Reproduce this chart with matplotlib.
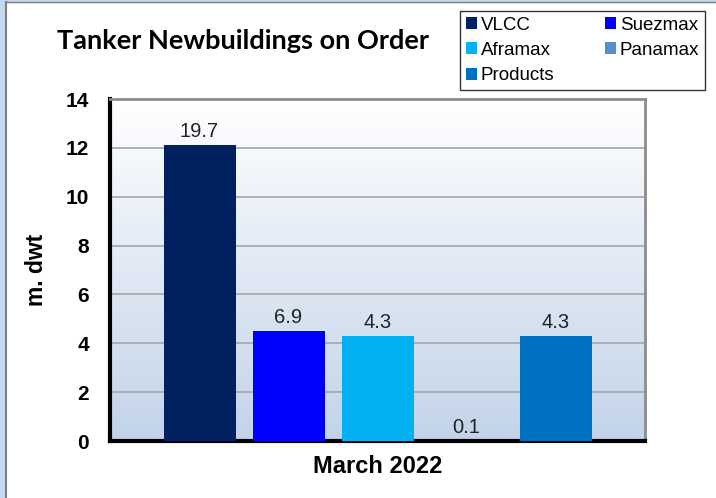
import numpy as np
import matplotlib
matplotlib.use("Agg")
import matplotlib.pyplot as plt
from matplotlib.colors import LinearSegmentedColormap
from matplotlib.patches import Rectangle

# data
categories = ["VLCC", "Suezmax", "Aframax", "Panamax", "Products"]
bar_heights = [12.1, 4.5, 4.3, 0.0, 4.3]
bar_labels = ["19.7", "6.9", "4.3", "0.1", "4.3"]
colors = ["#002060", "#0000ff", "#00b0f0", "#558ed5", "#0070c0"]
x_label = "March 2022"
y_ticks = [0, 2, 4, 6, 8, 10, 12, 14]

plt.rcParams["font.family"] = ["Liberation Sans", "DejaVu Sans"]

fig = plt.figure(figsize=(7.16, 4.98), dpi=100)

# light blue frame on left / top edge
fig.patches.append(Rectangle((0, 0), 5 / 716, 1, transform=fig.transFigure,
                             color="#c6d9f1", zorder=0))
fig.patches.append(Rectangle((0, 1 - 2 / 498), 1, 2 / 498, transform=fig.transFigure,
                             color="#c6d9f1", zorder=0))
fig.lines.append(plt.Line2D([6 / 716, 6 / 716], [0, 1 - 2.5 / 498],
                            transform=fig.transFigure, color="#7f7f7f", lw=1.5))
fig.lines.append(plt.Line2D([6 / 716, 1], [1 - 2.5 / 498, 1 - 2.5 / 498],
                            transform=fig.transFigure, color="#7f7f7f", lw=1))

ax = fig.add_axes([110 / 716, 57 / 498, 535 / 716, 342 / 498])

# gradient background
grad = np.linspace(0, 1, 256).reshape(-1, 1)
cmap = LinearSegmentedColormap.from_list("bg", ["#c2d3e9", "#ffffff"])
ax.imshow(grad, extent=[-0.5, 0.5, 0, 14], origin="lower", aspect="auto",
          cmap=cmap, zorder=0)

n = len(categories)
step = 89 / 535
width = 72 / 535
xs = [(i - (n - 1) / 2) * step for i in range(n)]
bars = ax.bar(xs, bar_heights, width=width, color=colors, zorder=3,
              label=categories)

for b, lab in zip(bars, bar_labels):
    ax.annotate(lab, (b.get_x() + b.get_width() / 2, b.get_height()),
                xytext=(0, 3), textcoords="offset points",
                ha="center", va="bottom", fontsize=14.5, color="#222222")

ax.set_xlim(-0.5, 0.5)
ax.set_ylim(0, 14)
ax.set_yticks(y_ticks)
ax.set_yticklabels([str(t) for t in y_ticks], fontsize=15, fontweight="bold")
ax.set_xticks([])
ax.tick_params(axis="y", length=0, pad=15)
ax.yaxis.grid(True, color="#a6a6a6", lw=1.2, zorder=1)
ax.set_axisbelow(True)

for s in ["left", "bottom"]:
    ax.spines[s].set_color("black")
    ax.spines[s].set_linewidth(3)
for s in ["top", "right"]:
    ax.spines[s].set_color("#8c8c8c")
    ax.spines[s].set_linewidth(2)

ax.set_ylabel("m. dwt", fontsize=16.5, fontweight="bold", labelpad=13)
ax.set_xlabel(x_label, fontsize=17, fontweight="bold", labelpad=10)

fig.text(57 / 716, 1 - 41 / 498, "Tanker Newbuildings on Order",
         fontsize=19.5, fontweight="bold", family=["Lato", "DejaVu Sans"],
         ha="left", va="center")

# legend in column-major order
order = [0, 2, 4, 1, 3]
handles = [bars[i] for i in order]
labels = [categories[i] for i in order]
leg = fig.legend(handles, labels, ncol=2, loc="upper left",
                 bbox_to_anchor=(460 / 716, 1 - 11 / 498),
                 frameon=True, fancybox=False, edgecolor="black",
                 fontsize=13.5, handlelength=0.6, handleheight=0.6,
                 handletextpad=0.2, columnspacing=2.7, labelspacing=0.45,
                 borderpad=0.3, borderaxespad=0)
leg.get_frame().set_linewidth(1)

fig.savefig("out.png", dpi=100)
